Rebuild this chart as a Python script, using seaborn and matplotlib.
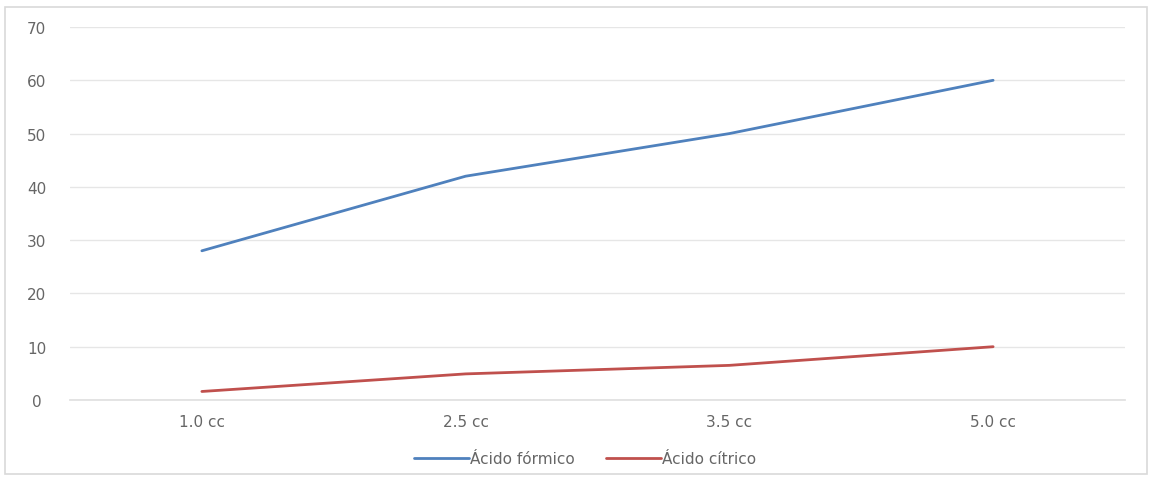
import matplotlib
matplotlib.use("Agg")
import matplotlib.pyplot as plt
import seaborn as sns
import pandas as pd
from matplotlib.patches import Rectangle

categories = ["1.0 cc", "2.5 cc", "3.5 cc", "5.0 cc"]
formico = [28, 42, 50, 60]
citrico = [1.6, 4.9, 6.5, 10]
series_names = ["Ácido fórmico", "Ácido cítrico"]
yticks = [0, 10, 20, 30, 40, 50, 60, 70]

df = pd.DataFrame({
    "cat": categories * 2,
    "val": formico + citrico,
    "serie": [series_names[0]] * 4 + [series_names[1]] * 4,
})

sns.set_theme(style="white")
plt.rcParams["font.family"] = ["DejaVu Sans"]

fig = plt.figure(figsize=(11.52, 4.81), dpi=100)
ax = fig.add_axes([70 / 1152, 80 / 481, 1055 / 1152, 373 / 481])

palette = {series_names[0]: "#4F81BD", series_names[1]: "#C0504D"}
sns.lineplot(data=df, x="cat", y="val", hue="serie", palette=palette,
             sort=False, linewidth=2.0, ax=ax, legend=True)

ax.set_xlim(-0.5, 3.5)
ax.set_ylim(0, 70)
ax.set_yticks(yticks)
ax.set_yticklabels([str(t) for t in yticks])
ax.yaxis.grid(True, color="#E6E6E6", linewidth=1.0)
ax.set_axisbelow(True)
for s in ax.spines.values():
    s.set_visible(False)
ax.spines["bottom"].set_visible(True)
ax.spines["bottom"].set_color("#E0E0E0")
ax.tick_params(axis="both", length=0, colors="#666666", labelsize=11)
ax.tick_params(axis="x", pad=10)
ax.tick_params(axis="y", pad=24)
for lab in ax.get_yticklabels():
    lab.set_horizontalalignment("center")
ax.set_xlabel("")
ax.set_ylabel("")

leg = ax.legend(loc="center", bbox_to_anchor=(585 / 1152, 21 / 481),
                bbox_transform=fig.transFigure, ncol=2, frameon=False,
                fontsize=11, handlelength=3.6, handletextpad=0.1,
                columnspacing=2.0)
for t in leg.get_texts():
    t.set_color("#666666")

fig.patches.append(Rectangle((5 / 1152, 6 / 481), 1142 / 1152, 467 / 481,
                             transform=fig.transFigure, fill=False,
                             edgecolor="#D9D9D9", linewidth=1.2))

fig.savefig("out.png", dpi=100)
